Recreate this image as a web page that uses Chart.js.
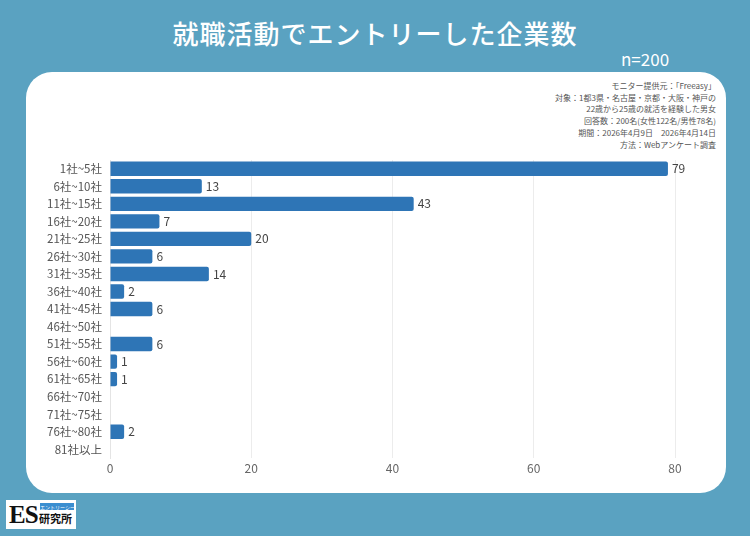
<!DOCTYPE html>
<html>
<head>
<meta charset="utf-8">
<script src="https://cdn.jsdelivr.net/npm/chart.js@4"></script>
<style>
  html, body { margin: 0; padding: 0; }
  body {
    width: 750px; height: 536px; position: relative; overflow: hidden;
    background: #5aa2c1;
    font-family: "Noto Sans CJK JP", "Noto Sans", sans-serif;
  }
  #title {
    position: absolute; left: 0; top: 14px; width: 750px; text-align: center;
    color: #fff; font-size: 26px; font-weight: 500; letter-spacing: 1px;
  }
  #n {
    position: absolute; left: 621px; top: 46px; color: #fff; font-size: 17px;
  }
  #card {
    position: absolute; left: 26px; top: 72px; width: 700px; height: 421px;
    background: #fff; border-radius: 26px;
  }
  #note {
    position: absolute; right: 34px; top: 80px; text-align: right;
    color: #555; font-size: 8px; line-height: 11.7px;
  }
  #logo {
    position: absolute; left: 6px; top: 500px; width: 70px; height: 29px;
    background: #fff; white-space: nowrap;
  }
  #logo .es {
    position: absolute; left: 3px; top: 0px; font-family: "Liberation Serif", serif;
    font-weight: bold; font-size: 25px; line-height: 29px; color: #111; letter-spacing: -1px;
  }
  #logo .band {
    position: absolute; left: 34px; top: 3px; width: 34px; height: 7px;
    background: #3b8ed0; color: #fff; font-size: 5px; line-height: 7px; text-align: center;
    overflow: hidden;
  }
  #logo .ken {
    position: absolute; left: 33px; top: 10px; font-size: 11px; line-height: 17px;
    font-weight: bold; color: #111;
  }
  #wrap { position: absolute; left: 0; top: 0; width: 750px; height: 536px; }
</style>
</head>
<body>
<div id="title">就職活動でエントリーした企業数</div>
<div id="n">n=200</div>
<div id="card"></div>
<div id="note">
  モニター提供元：「Freeasy」<br>
  対象：1都3県・名古屋・京都・大阪・神戸の<br>
  22歳から25歳の就活を経験した男女<br>
  回答数：200名(女性122名/男性78名)<br>
  期間：2026年4月9日　2026年4月14日<br>
  方法：Webアンケート調査
</div>
<div id="logo"><span class="es">ES</span><span class="band">エントリーシート</span><span class="ken">研究所</span></div>
<div id="wrap"><canvas id="canvas" width="750" height="536"></canvas></div>
<script>
const categories = [
  '1社~5社', '6社~10社', '11社~15社', '16社~20社', '21社~25社', '26社~30社',
  '31社~35社', '36社~40社', '41社~45社', '46社~50社', '51社~55社', '56社~60社',
  '61社~65社', '66社~70社', '71社~75社', '76社~80社', '81社以上',
];
const counts = [79, 13, 43, 7, 20, 6, 14, 2, 6, 0, 6, 1, 1, 0, 0, 2, 0];
const xTicks = [0, 20, 40, 60, 80];

// 棒の右に値を描く
const valueLabels = {
  id: 'valueLabels',
  afterDatasetsDraw(chart) {
    const ctx = chart.ctx;
    const meta = chart.getDatasetMeta(0);
    ctx.save();
    ctx.font = '12px "Noto Sans CJK JP", sans-serif';
    ctx.fillStyle = '#444';
    ctx.textBaseline = 'middle';
    meta.data.forEach((bar, i) => {
      if (!counts[i]) return;
      ctx.fillText(String(counts[i]), bar.x + 4, bar.y);
    });
    ctx.restore();
  },
};

new Chart(document.getElementById('canvas'), {
  type: 'bar',
  data: {
    labels: categories,
    datasets: [{
      data: counts,
      backgroundColor: '#2e75b6',
      borderRadius: 2,
      borderSkipped: 'start',
      barPercentage: 0.82,
      categoryPercentage: 1,
    }],
  },
  options: {
    indexAxis: 'y',
    responsive: false,
    animation: false,
    maintainAspectRatio: false,
    layout: { padding: { left: 0, right: 75, top: 160, bottom: 58 } },
    plugins: { legend: { display: false }, tooltip: { enabled: false } },
    scales: {
      x: {
        min: 0, max: 80,
        afterBuildTicks(axis) { axis.ticks = xTicks.map((v) => ({ value: v })); },
        afterFit(axis) { axis.height = 20; },
        grid: { color: '#ececec', drawTicks: false },
        border: { display: false },
        ticks: { color: '#666', font: { size: 12, family: '"Noto Sans CJK JP", sans-serif' }, padding: 3 },
      },
      y: {
        afterFit(axis) { axis.width = 110; },
        grid: { display: false, drawTicks: false },
        border: { color: '#e4e4e4' },
        ticks: { color: '#555', font: { size: 11.5, family: '"Noto Sans CJK JP", sans-serif' }, padding: 8 },
      },
    },
  },
  plugins: [valueLabels],
});
</script>
</body>
</html>
